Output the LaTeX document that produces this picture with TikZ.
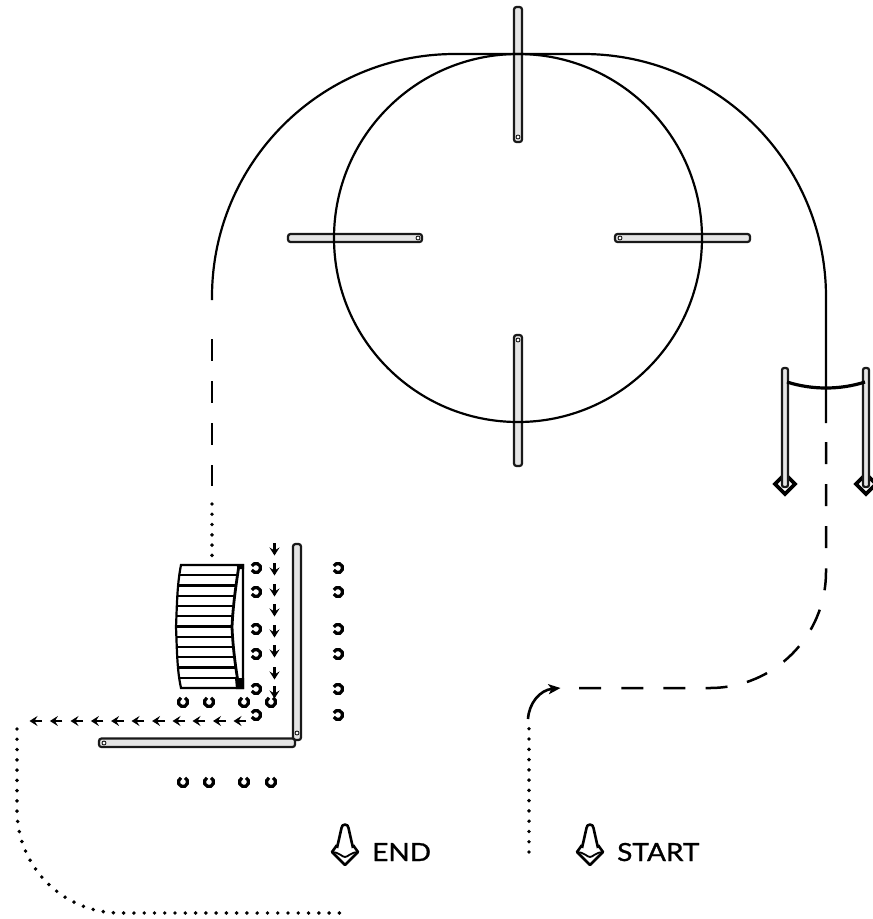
\documentclass[tikz,border=0pt]{standalone}
\usepackage{fontspec}
\setmainfont[FakeStretch=1.12,FakeBold=1]{Lato}
\usetikzlibrary{arrows.meta}
\tikzset{
  line/.style={line width=2.2pt,black},
  dashline/.style={line width=2.5pt,dash pattern=on 22pt off 20.1pt},
  dotline/.style={line width=3.9pt,line cap=round,dash pattern=on 0pt off 10.27pt},
  wallbar/.style={draw=black!90,line width=2.2pt,fill=black!10,rounded corners=2.5pt},
  wallend/.style={fill=white,draw=black,line width=.8pt},
  markcone/.style={line width=3.2pt},
  smallarrow/.style={line width=2.4pt,-{Stealth[length=8pt,width=10pt,inset=3pt]}},
  bigcone/.style={line width=2.6pt,line join=round},
  label/.style={font=\fontsize{25}{25}\selectfont,inner sep=0pt,anchor=base west}
}
\newcommand{\coneL}[2]{\draw[markcone] ([shift={(-155:4.6pt)}]#1,#2) arc[start angle=-155,end angle=155,radius=4.6pt];}
\newcommand{\coneU}[2]{\draw[markcone] ([shift={(115:4.6pt)}]#1,#2) arc[start angle=115,end angle=425,radius=4.6pt];}
\newcommand{\bigconeat}[1]{%
  \begin{scope}[shift={(#1,0)}]
    \draw[bigcone] (-3.5,828) arc[start angle=180,end angle=0,radius=3.5pt] -- (8,848) (-3.5,828) -- (-8,848);
    \draw[bigcone] (-8,845) -- (-13,852) -- (0,865) -- (13,852) -- (8,845);
    \draw[line width=1.8pt] (-13,852) .. controls (-6,852) and (-3,857) .. (0,857) .. controls (3,857) and (6,852) .. (13,852);
  \end{scope}}
\begin{document}
\begin{tikzpicture}[x=1pt,y=-1pt]
\useasboundingbox (0,0) rectangle (873,919);
\fill[white] (0,0) rectangle (873,919);
% walls
\draw[wallbar] (514,7) rectangle (522,142);
\fill[wallend] (518,137) circle[radius=2pt];
\draw[wallbar] (514,335) rectangle (522,466);
\fill[wallend] (518,340) circle[radius=2pt];
\draw[wallbar] (288,234) rectangle (422,242);
\fill[wallend] (418,238) circle[radius=2pt];
\draw[wallbar] (615,234) rectangle (750,242);
\fill[wallend] (620,238) circle[radius=2pt];
% course
\draw[line] (518,238) circle[radius=184pt];
\draw[line] (212,300) -- (212,297) arc[start angle=180,end angle=90,radius=243pt] -- (583,54) arc[start angle=90,end angle=0,radius=243pt] -- (826,423);
\draw[dashline] (212,339) -- (212,486);
\draw[dotline] (212,504) -- (212,556);
\draw[dashline] (826,442) -- (826,572) arc[start angle=0,end angle=-90,radius=116pt] -- (579,688);
% gates
\draw[line width=3.6pt] (785,484) ++(-10,0) -- ++(10,-10) -- ++(10,10) -- ++(-10,10) -- cycle;
\draw[line width=3.6pt] (866,484) ++(-10,0) -- ++(10,-10) -- ++(10,10) -- ++(-10,10) -- cycle;
\draw[wallbar,rounded corners=2pt] (782,368) rectangle (788,487);
\draw[wallbar,rounded corners=2pt] (863,368) rectangle (869,487);
\draw[line width=3.2pt] (787,382) .. controls (812,390) and (840,390) .. (865,382);
% start and end cones
\bigconeat{590}
\bigconeat{345}
\node[label] (startlabel) at (617,861) {START};
\node[label] (endlabel) at (372,861) {END};
% start path
\draw[dotline] (529,852) -- (529,728);
\draw[line width=2.6pt,-{Stealth[length=12pt,width=10pt,inset=3pt]}] (528,719) .. controls (529,703) and (540,690) .. (560.5,688);
% exit path
\draw[dotline] (17,729) -- (17,810) arc[start angle=180,end angle=270,radius=103pt] -- (346,913);
% bottom wall pair
\draw[wallbar] (293,544) rectangle (301,740);
\fill[wallend] (297,733) circle[radius=2pt];
\draw[wallbar] (99,738.5) rectangle (295,747);
\fill[wallend] (104,743) circle[radius=2pt];
% ramp
\draw[line width=2.2pt,fill=white] (181,565) .. controls (177,585) and (177,605) .. (176,627) .. controls (177,650) and (177,670) .. (181,688) -- (243,688) -- (243,565) -- cycle;
\foreach \yy in {575.25,585.5,595.75,606,616.25,626.5,636.75,647,657.25,667.5,677.75}{
  \pgfmathsetmacro{\off}{1-((\yy-626.5)/61.5)^2}
  \pgfmathsetmacro{\xl}{181-5*\off}
  \pgfmathsetmacro{\xr}{238-6*\off}
  \draw[line width=2.2pt] (\xl,\yy) -- (\xr,\yy);
}
\draw[line width=2.8pt] (239,565) .. controls (236,585) and (233,605) .. (232,627) .. controls (233,650) and (236,670) .. (239,688);
\draw[line width=2.6pt] (243,565) -- (243,688);
\fill (236,564) -- (244,564) -- (244,569) -- (238,569) -- cycle;
\fill (236,689) -- (244,689) -- (244,678) -- (235,678) -- cycle;
% down arrows
\foreach \yy in {549,569,590,610,631,651,673,692}{
  \draw[smallarrow] (274.5,\yy-6) -- (274.5,\yy+6.5);
}
% left arrows
\foreach \xx in {36,56.4,77,97.4,117.6,138,158.6,179,199,219.5,240}{
  \draw[smallarrow] (\xx+6,721) -- (\xx-6.5,721);
}
% marker cones
\foreach \yy in {568,592,629,654,689,715}{
  \coneL{256}{\yy}
  \coneL{338}{\yy}
}
\foreach \xx in {183,209,244,271}{
  \coneU{\xx}{702}
  \coneU{\xx}{782}
}
\end{tikzpicture}
\end{document}
